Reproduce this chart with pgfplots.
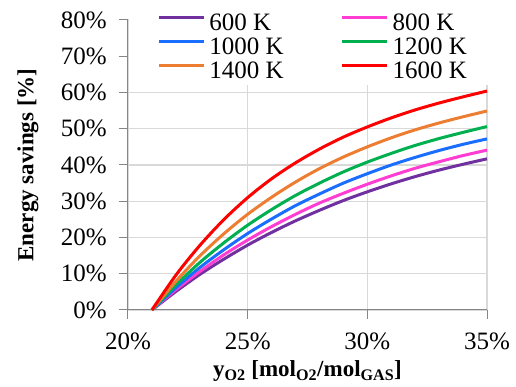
\documentclass[border=0pt]{standalone}
\usepackage{pgfplots}
\pgfplotsset{compat=1.18}
\usepackage{fontspec}
\setmainfont{Liberation Serif}
\newfontfamily\tnr{LiberationSerif}
\definecolor{cpurple}{HTML}{7030A0}
\definecolor{cpink}{HTML}{FF3DD2}
\definecolor{cblue}{HTML}{1A6EFF}
\definecolor{cgreen}{HTML}{00B050}
\definecolor{corange}{HTML}{ED7D31}
\definecolor{cred}{HTML}{FF0000}
\definecolor{gridgray}{HTML}{D9D9D9}
\definecolor{axisgray}{HTML}{868686}
\begin{document}
\begin{tikzpicture}
\begin{axis}[
  name=ax,
  scale only axis,
  width=359bp, height=290bp,
  xmin=20, xmax=35, ymin=0, ymax=80,
  clip=false,
  xtick={20,25,30,35}, ytick={0,10,...,80},
  xticklabel={\pgfmathprintnumber{\tick}\%},
  yticklabel={\pgfmathprintnumber{\tick}\%},
  /pgf/number format/assume math mode=true,
  tick label style={font=\tnr\fontsize{25bp}{27bp}\selectfont},
  yticklabel style={anchor=east, inner sep=0bp, xshift=-12bp},
  xticklabel style={anchor=north, inner sep=0bp, yshift=-14bp},
  axis x line*=bottom, axis y line*=left,
  axis line style={axisgray, line width=1bp, -},
  tick style={axisgray, line width=1bp},
  major tick length=9bp,
  tick align=outside,
  grid=major,
  major grid style={gridgray, line width=1.3bp},
  xlabel={y\textsubscript{O2} [mol\textsubscript{O2}/mol\textsubscript{GAS}]},
  ylabel={Energy savings [\%]},
  every axis x label/.style={at={(axis description cs:0.5,0)}, yshift=-61bp, anchor=center,
    font=\rmfamily\fontsize{23bp}{25bp}\selectfont\bfseries},
  every axis y label/.style={at={(axis description cs:0,0.5)}, xshift=-100bp, rotate=90, anchor=center,
    font=\rmfamily\fontsize{23bp}{25bp}\selectfont\bfseries},
  legend columns=2,
  legend style={at={(0.081,1.02)}, anchor=north west, fill=none, draw=none,
    font=\tnr\fontsize{25bp}{27bp}\selectfont, row sep=5bp, inner sep=0bp,
    nodes={inner sep=0bp, text height=16bp, text depth=3bp},
    /tikz/every odd column/.append style={column sep=4bp},
    /tikz/every even column/.append style={column sep=57bp}},
  legend cell align=left,
  legend image code/.code={\draw[#1, line width=3bp] (0bp,6bp) -- (45bp,6bp);},
  every axis plot/.append style={line width=3bp, smooth},
]
\fill[white] (axis cs:20.06,62) rectangle (axis cs:35.4,81.5);
\addplot[cpurple] coordinates {(21,0)(22,5.1)(23,9.8)(24,14.0)(25,17.9)(26,21.4)(27,24.6)(28,27.5)(29,30.2)(30,32.6)(31,34.8)(32,36.8)(33,38.6)(34,40.2)(35,41.7)};
\addlegendentry{600 K}
\addplot[cpink] coordinates {(21,0)(22,5.6)(23,10.6)(24,15.2)(25,19.3)(26,23.0)(27,26.4)(28,29.5)(29,32.2)(30,34.7)(31,37.0)(32,39.1)(33,40.9)(34,42.6)(35,44.1)};
\addlegendentry{800 K}
\addplot[cblue] coordinates {(21,0)(22,6.1)(23,11.7)(24,16.6)(25,21.1)(26,25.1)(27,28.8)(28,32.0)(29,35.0)(30,37.6)(31,40.0)(32,42.1)(33,44.0)(34,45.7)(35,47.2)};
\addlegendentry{1000 K}
\addplot[cgreen] coordinates {(21,0)(22,6.9)(23,13.1)(24,18.5)(25,23.4)(26,27.7)(27,31.6)(28,35.0)(29,38.1)(30,40.8)(31,43.2)(32,45.4)(33,47.3)(34,49.0)(35,50.6)};
\addlegendentry{1200 K}
\addplot[corange] coordinates {(21,0)(22,7.9)(23,14.9)(24,21.0)(25,26.4)(26,31.1)(27,35.3)(28,39.0)(29,42.2)(30,45.0)(31,47.5)(32,49.7)(33,51.6)(34,53.3)(35,54.9)};
\addlegendentry{1400 K}
\addplot[cred] coordinates {(21,0)(22,9.6)(23,17.8)(24,24.9)(25,31.0)(26,36.2)(27,40.6)(28,44.4)(29,47.7)(30,50.5)(31,53.0)(32,55.2)(33,57.1)(34,58.8)(35,60.4)};
\addlegendentry{1600 K}
\end{axis}
\path ([shift={(-128bp,-77bp)}]ax.south west) rectangle ([shift={(29bp,20bp)}]ax.north east);
\end{tikzpicture}
\end{document}
